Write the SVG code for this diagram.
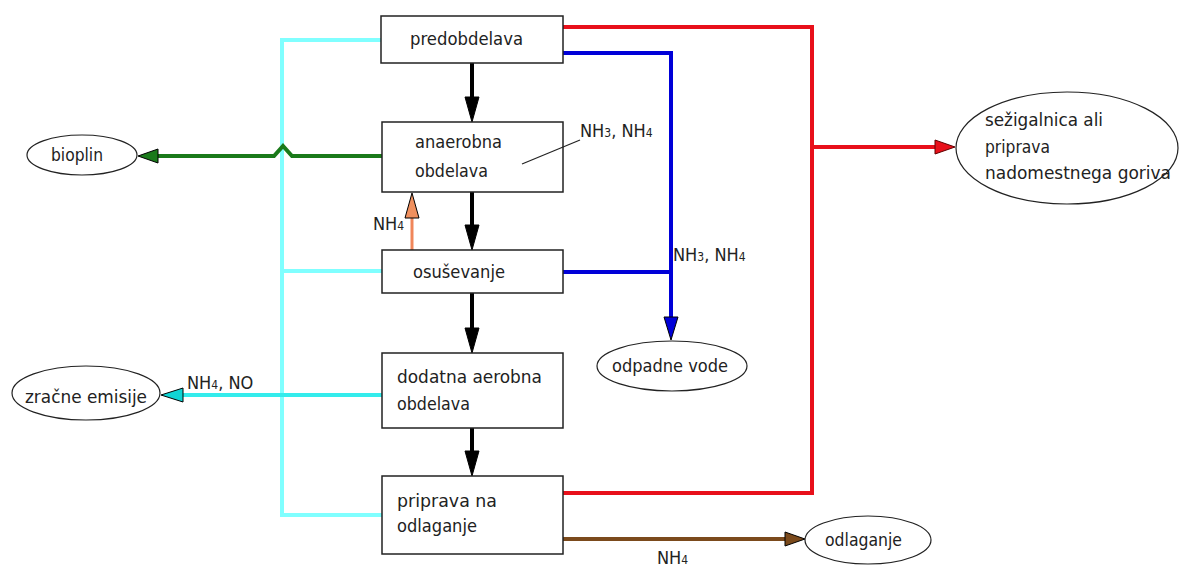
<svg xmlns="http://www.w3.org/2000/svg" width="1182" height="566" viewBox="0 0 1182 566">
  <style>
    .box { fill: #ffffff; stroke: #222222; stroke-width: 1.5; }
    .term { fill: #ffffff; stroke: #222222; stroke-width: 1.2; }
    text { font-family: "DejaVu Sans Condensed", "DejaVu Sans", sans-serif; font-size: 18px; fill: #222222; }
    .sub { font-size: 12px; }
    .flow { fill: none; stroke-width: 4; stroke-linejoin: miter; }
    .black { stroke: #000000; }
    .red { stroke: #e8101a; }
    .blue { stroke: #0000d8; }
    .green { stroke: #1a7a1a; }
    .cyan { stroke: #80ffff; }
    .cyan2 { stroke: #33ecec; }
    .brown { stroke: #7b4a1c; }
    .orange { stroke: #f0865a; stroke-width: 3; }
    .leader { fill: none; stroke: #222222; stroke-width: 1.2; }
  </style>
  <defs>
    <marker id="hBlack" markerUnits="userSpaceOnUse" markerWidth="28" markerHeight="18" refX="1" refY="8" orient="auto">
      <path d="M1,1 L26,8 L1,15 z" fill="#000000" stroke="#000000" stroke-width="1"/>
    </marker>
    <marker id="hBlue" markerUnits="userSpaceOnUse" markerWidth="26" markerHeight="18" refX="1" refY="8" orient="auto">
      <path d="M1,1 L24,8 L1,15 z" fill="#0000d8" stroke="#000000" stroke-width="1"/>
    </marker>
    <marker id="hOrange" markerUnits="userSpaceOnUse" markerWidth="28" markerHeight="18" refX="1" refY="8" orient="auto">
      <path d="M1,1 L26,8 L1,15 z" fill="#f0905e" stroke="#000000" stroke-width="1"/>
    </marker>
    <marker id="hGreen" markerUnits="userSpaceOnUse" markerWidth="24" markerHeight="18" refX="1" refY="8" orient="auto">
      <path d="M1,1 L21,8 L1,15 z" fill="#1a7a1a" stroke="#000000" stroke-width="1"/>
    </marker>
    <marker id="hCyan" markerUnits="userSpaceOnUse" markerWidth="24" markerHeight="18" refX="1" refY="8" orient="auto">
      <path d="M1,1 L23,8 L1,15 z" fill="#10d4d4" stroke="#000000" stroke-width="1"/>
    </marker>
    <marker id="hRed" markerUnits="userSpaceOnUse" markerWidth="24" markerHeight="18" refX="1" refY="8" orient="auto">
      <path d="M1,1 L21,8 L1,15 z" fill="#e8101a" stroke="#600000" stroke-width="1"/>
    </marker>
    <marker id="hBrown" markerUnits="userSpaceOnUse" markerWidth="24" markerHeight="18" refX="1" refY="8" orient="auto">
      <path d="M1,1 L21,8 L1,15 z" fill="#7b4a1c" stroke="#000000" stroke-width="1"/>
    </marker>
  </defs>

  <rect width="1182" height="566" fill="#ffffff"/>

  <g id="connectors">
    <!-- cyan collector on the left -->
    <path class="flow cyan" d="M382,40 H282 V515 H382"/>
    <path class="flow cyan" d="M282,271 H382"/>
    <!-- green biogas line with a hop over the cyan collector -->
    <path class="flow green" d="M382,156 H292 L283,146 L274,156 H158" marker-end="url(#hGreen)"/>
    <!-- cyan emissions line -->
    <path class="flow cyan2" d="M382,395 H183" marker-end="url(#hCyan)"/>
    <!-- main black process flow -->
    <path class="flow black" d="M472,63 V97" marker-end="url(#hBlack)"/>
    <path class="flow black" d="M472,192 V225" marker-end="url(#hBlack)"/>
    <path class="flow black" d="M472,293 V328" marker-end="url(#hBlack)"/>
    <path class="flow black" d="M472,428 V451" marker-end="url(#hBlack)"/>
    <!-- NH4 return -->
    <path class="flow orange" d="M412,250 V218" marker-end="url(#hOrange)"/>
    <!-- red line to incineration -->
    <path class="flow red" d="M563,27 H812 V493 H563"/>
    <path class="flow red" d="M812,147 H935" marker-end="url(#hRed)"/>
    <!-- blue waste water -->
    <path class="flow blue" d="M563,53 H671 V317" marker-end="url(#hBlue)"/>
    <path class="flow blue" d="M563,272 H671"/>
    <!-- brown to landfill -->
    <path class="flow brown" d="M563,539 H785" marker-end="url(#hBrown)"/>
  </g>

  <g id="predobdelava">
    <rect class="box" x="381" y="16" width="182" height="47"/>
    <text x="410" y="45" textLength="113" lengthAdjust="spacingAndGlyphs">predobdelava</text>
  </g>

  <g id="anaerobna">
    <rect class="box" x="382" y="122" width="181" height="70"/>
    <text x="415" y="148" textLength="87" lengthAdjust="spacingAndGlyphs">anaerobna</text>
    <text x="415" y="177" textLength="73" lengthAdjust="spacingAndGlyphs">obdelava</text>
  </g>

  <g id="osusevanje">
    <rect class="box" x="382" y="250" width="181" height="43"/>
    <text x="413" y="278" textLength="92" lengthAdjust="spacingAndGlyphs">osuševanje</text>
  </g>

  <g id="dodatna">
    <rect class="box" x="382" y="353" width="181" height="75"/>
    <text x="397" y="383" textLength="145" lengthAdjust="spacingAndGlyphs">dodatna aerobna</text>
    <text x="397" y="410" textLength="73" lengthAdjust="spacingAndGlyphs">obdelava</text>
  </g>

  <g id="priprava">
    <rect class="box" x="382" y="476" width="181" height="78"/>
    <text x="397" y="507" textLength="100" lengthAdjust="spacingAndGlyphs">priprava na</text>
    <text x="397" y="532" textLength="80" lengthAdjust="spacingAndGlyphs">odlaganje</text>
  </g>

  <g id="bioplin">
    <ellipse class="term" cx="82" cy="155" rx="55" ry="20"/>
    <text x="51" y="161" textLength="52" lengthAdjust="spacingAndGlyphs">bioplin</text>
  </g>

  <g id="zracne-emisije">
    <ellipse class="term" cx="86" cy="393" rx="74" ry="27"/>
    <text x="25" y="403" textLength="122" lengthAdjust="spacingAndGlyphs">zračne emisije</text>
  </g>

  <g id="odpadne-vode">
    <ellipse class="term" cx="672" cy="366" rx="75" ry="25"/>
    <text x="612" y="372" textLength="116" lengthAdjust="spacingAndGlyphs">odpadne vode</text>
  </g>

  <g id="sezigalnica">
    <ellipse class="term" cx="1067" cy="148" rx="111" ry="56"/>
    <text x="985" y="126" textLength="118" lengthAdjust="spacingAndGlyphs">sežigalnica ali</text>
    <text x="985" y="153" textLength="65" lengthAdjust="spacingAndGlyphs">priprava</text>
    <text x="985" y="179" textLength="186" lengthAdjust="spacingAndGlyphs">nadomestnega goriva</text>
  </g>

  <g id="odlaganje">
    <ellipse class="term" cx="868" cy="540" rx="63" ry="24"/>
    <text x="825" y="546" textLength="77" lengthAdjust="spacingAndGlyphs">odlaganje</text>
  </g>

  <g id="labels">
    <!-- leader from the digester to its gas label -->
    <path class="leader" d="M522,164 L580,140"/>
    <text x="580" y="137">NH<tspan class="sub">3</tspan>, NH<tspan class="sub">4</tspan></text>
    <text x="373" y="230">NH<tspan class="sub">4</tspan></text>
    <text x="673" y="261">NH<tspan class="sub">3</tspan>, NH<tspan class="sub">4</tspan></text>
    <text x="187" y="389">NH<tspan class="sub">4</tspan>, NO</text>
    <text x="657" y="564">NH<tspan class="sub">4</tspan></text>
  </g>
</svg>
